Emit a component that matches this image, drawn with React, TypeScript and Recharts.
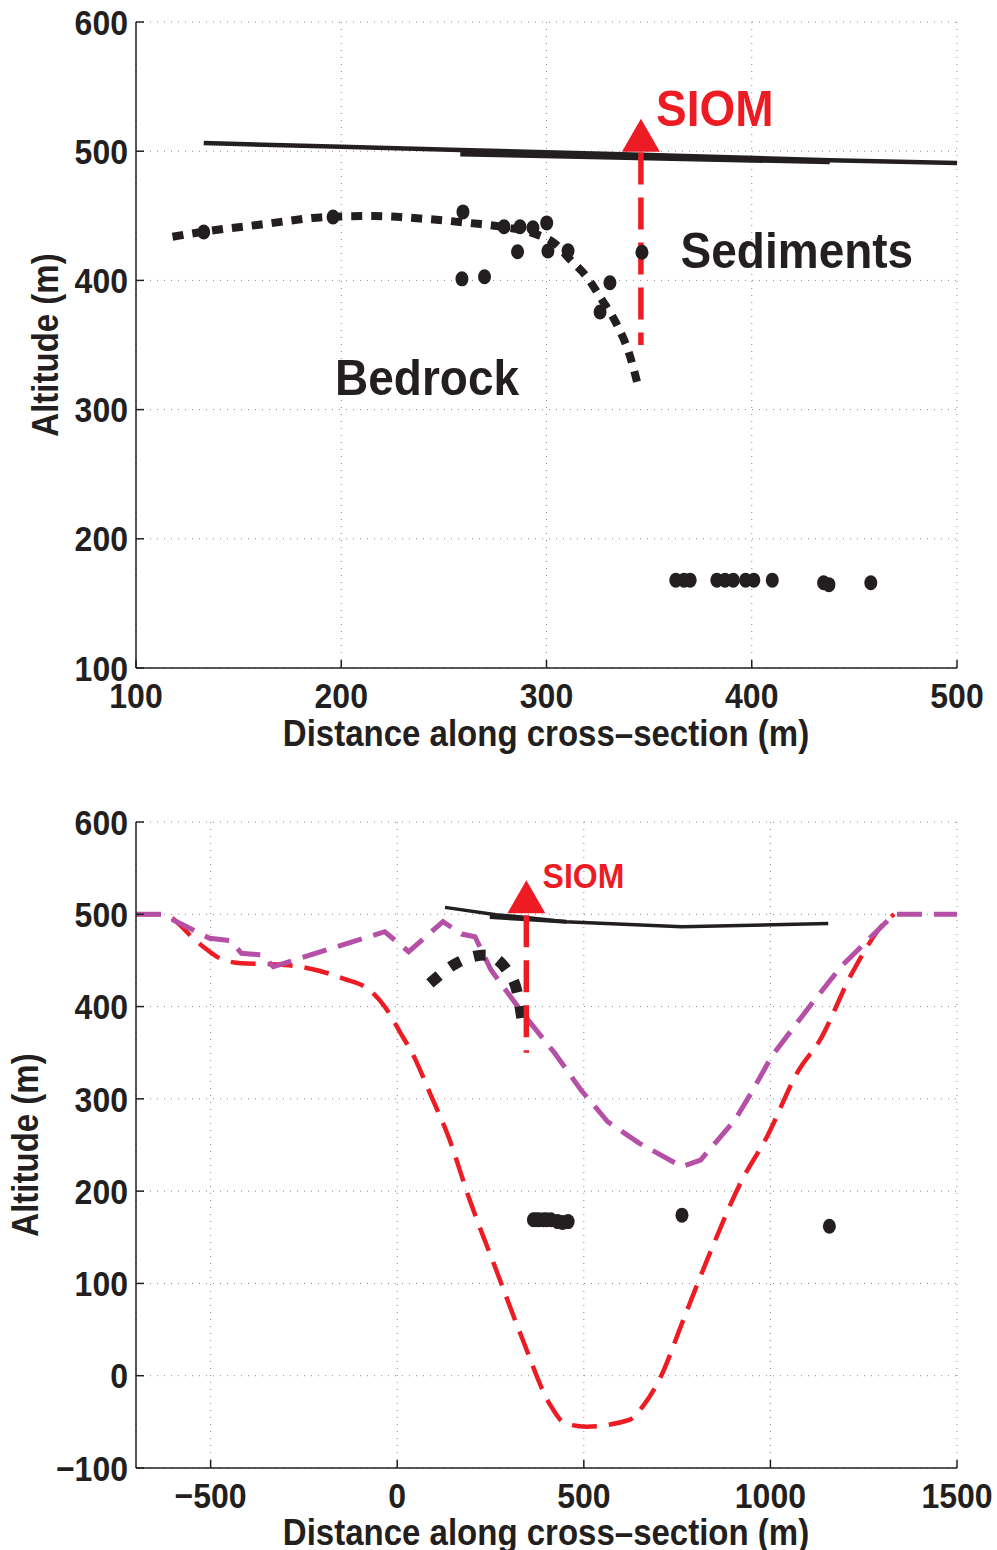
import React from 'react';
import { ComposedChart, Line, Scatter, XAxis, YAxis, CartesianGrid } from 'recharts';

const INK = '#231F20';
const RED = '#ED1C24';
const MAGENTA = '#B64FA6';
const FONT = "'Liberation Sans', Arial, Helvetica, sans-serif";

// ---- top panel (zoom on the sediment pocket) ----
const topXTicks = [100, 200, 300, 400, 500];
const topYTicks = [100, 200, 300, 400, 500, 600];

const topSurface = [
  { x: 133, y: 506.3 }, { x: 200, y: 503.5 }, { x: 258, y: 501 },
  { x: 346, y: 497.3 }, { x: 438, y: 493 }, { x: 500, y: 490.9 },
];
const topSurfaceThick = [
  { x: 258, y: 497.8 }, { x: 350, y: 494.8 }, { x: 438, y: 491.8 },
];
const topBedrock = [
  { x: 117.8, y: 433.8 }, { x: 133, y: 437.7 }, { x: 159, y: 442.9 },
  { x: 195.5, y: 449.3 }, { x: 216, y: 449.8 }, { x: 241.8, y: 447.5 },
  { x: 262.7, y: 444.4 }, { x: 278, y: 441.6 }, { x: 293.4, y: 436.5 },
  { x: 304, y: 428.7 }, { x: 311.7, y: 415.8 }, { x: 319.5, y: 402.9 },
  { x: 327, y: 385 }, { x: 334.8, y: 364.2 }, { x: 340.2, y: 343.8 },
  { x: 344.1, y: 321.6 },
];
const topPicks = [
  { x: 133, y: 437.5 }, { x: 196, y: 449.1 }, { x: 259.3, y: 453 },
  { x: 258.8, y: 401.2 }, { x: 269.8, y: 402.8 }, { x: 279.3, y: 441.5 },
  { x: 287.1, y: 441.5 }, { x: 293.4, y: 440.7 }, { x: 300.1, y: 444.5 },
  { x: 285.9, y: 422.2 }, { x: 300.7, y: 422.8 }, { x: 310.5, y: 423 },
  { x: 330.9, y: 398.2 }, { x: 326.1, y: 375.5 }, { x: 346.5, y: 421.8 },
  { x: 363, y: 168 }, { x: 367, y: 168 }, { x: 370, y: 168 },
  { x: 383, y: 168 }, { x: 387, y: 168 }, { x: 391, y: 168 },
  { x: 397, y: 168 }, { x: 401, y: 168 }, { x: 410, y: 168 },
  { x: 435, y: 166 }, { x: 437.6, y: 164.5 }, { x: 458, y: 166 },
];
const topSiomLine = [{ x: 346, y: 499 }, { x: 346, y: 350 }];
const topSiomMark = [{ x: 346, y: 499.5 }];
const topLabels = [
  { x: 382, y: 533.4, text: 'SIOM', color: RED, size: 46 },
  { x: 422, y: 423.5, text: 'Sediments', color: INK, size: 46 },
  { x: 241.8, y: 325.2, text: 'Bedrock', color: INK, size: 46 },
];

// ---- bottom panel (whole valley) ----
const botXTicks = [-500, 0, 500, 1000, 1500];
const botYTicks = [-100, 0, 100, 200, 300, 400, 500, 600];

const botSurface = [
  { x: 128, y: 507.5 }, { x: 265, y: 499.5 }, { x: 346, y: 496.5 },
  { x: 450, y: 492 }, { x: 763, y: 486.5 }, { x: 1155, y: 490 },
];
const botSurfaceThick = [{ x: 248, y: 497 }, { x: 346, y: 494.6 }, { x: 454, y: 492 }];
const botBedrock = [
  { x: 87.6, y: 425.2 }, { x: 158.3, y: 446.9 }, { x: 236.6, y: 455.9 },
  { x: 293.6, y: 439.6 }, { x: 322.2, y: 414.3 }, { x: 338, y: 376 },
];
const magentaModel = [
  { x: -700, y: 500 }, { x: -630.9, y: 500 }, { x: -502.8, y: 474 },
  { x: -446, y: 471.4 }, { x: -417.3, y: 457.7 }, { x: -360.5, y: 455.9 },
  { x: -332, y: 443.2 }, { x: -62.3, y: 477.5 }, { x: -33.3, y: 481.1 },
  { x: 30.7, y: 459.4 }, { x: 122.6, y: 492 }, { x: 172.7, y: 478.6 },
  { x: 208.4, y: 475.7 }, { x: 251.3, y: 439.6 }, { x: 336.5, y: 392.7 },
  { x: 421.7, y: 349.7 }, { x: 492.4, y: 309.6 }, { x: 564, y: 275.2 },
  { x: 649.1, y: 251.8 }, { x: 763, y: 226.5 }, { x: 812.9, y: 233.7 },
  { x: 905, y: 277.1 }, { x: 947.9, y: 306 }, { x: 1004, y: 346.4 },
  { x: 1104.4, y: 399.8 }, { x: 1189, y: 443.2 }, { x: 1260.9, y: 472.1 },
  { x: 1331.9, y: 500 }, { x: 1500, y: 500 },
];
const redModel = [
  { x: -700, y: 500 }, { x: -630.9, y: 500 }, { x: -531.2, y: 468.5 },
  { x: -474.9, y: 452.3 }, { x: -417.3, y: 446.9 }, { x: -346.3, y: 446.1 },
  { x: -261.1, y: 443.2 }, { x: -146.3, y: 430.6 }, { x: -68.9, y: 416.1 },
  { x: -33.3, y: 399.8 }, { x: 9.3, y: 371 }, { x: 45, y: 345.7 },
  { x: 87.8, y: 306 }, { x: 137.3, y: 259 }, { x: 194.2, y: 190.4 },
  { x: 265.2, y: 114.5 }, { x: 336.5, y: 38.7 }, { x: 407.4, y: -29.9 },
  { x: 450, y: -51.6 }, { x: 507.1, y: -55.2 }, { x: 621, y: -48 },
  { x: 663.9, y: -29.9 }, { x: 706.2, y: -1.1 }, { x: 763, y: 56.8 },
  { x: 834, y: 129 }, { x: 919.5, y: 208.5 }, { x: 990.8, y: 259 },
  { x: 1076, y: 331.2 }, { x: 1132.8, y: 363.7 }, { x: 1218.3, y: 436 },
  { x: 1317.7, y: 495.6 }, { x: 1331.9, y: 500 },
];
const botPicks = [
  { x: 365, y: 169 }, { x: 372, y: 169 }, { x: 380, y: 169 },
  { x: 392, y: 169 }, { x: 400, y: 169 }, { x: 412, y: 169 },
  { x: 430, y: 167 }, { x: 443, y: 166 }, { x: 458, y: 167 },
  { x: 763, y: 174 }, { x: 1158, y: 162 },
];
const botSiomLine = [{ x: 346, y: 499 }, { x: 346, y: 350 }];
const botSiomMark = [{ x: 346, y: 501 }];
const botLabels = [{ x: 499, y: 542.5, text: 'SIOM', color: RED, size: 32 }];

const fmt = (v: number) => (v < 0 ? `\u2212${Math.abs(v)}` : `${v}`);

const XTick = (props: any) => (
  <g transform={`translate(${props.x},${props.y}) scale(1,1.1)`}>
    <text x={0} y={0} dy="0.72em" textAnchor="middle" fontSize={32} fontWeight="bold" fill={INK} fontFamily={FONT}>
      {fmt(props.payload.value)}
    </text>
  </g>
);

const YTick = (props: any) => (
  <g transform={`translate(${props.x},${props.y}) scale(1,1.1)`}>
    <text x={0} y={0} dy="0.36em" textAnchor="end" fontSize={32} fontWeight="bold" fill={INK} fontFamily={FONT}>
      {fmt(props.payload.value)}
    </text>
  </g>
);

const Dot = (props: any) => <ellipse cx={props.cx} cy={props.cy} rx={6.5} ry={7.5} fill={INK} />;

const makeTriangle = (h: number) => (props: any) => (
  <polygon
    points={`${props.cx - 19},${props.cy} ${props.cx + 19},${props.cy} ${props.cx},${props.cy - h}`}
    fill={RED}
  />
);

const TextMark = (props: any) => {
  const p = props.payload;
  return (
    <g transform={`translate(${props.cx},${props.cy}) scale(1,1.1)`}>
      <text x={0} y={0} dy="0.36em" textAnchor="middle" fontSize={p.size} fontWeight="bold" fill={p.color} fontFamily={FONT}>
        {p.text}
      </text>
    </g>
  );
};

const Panel = (props: any) => {
  const { height, xDomain, yDomain, xTicks, yTicks, children, xAxisHeight } = props;
  return (
    <ComposedChart width={997} height={height} margin={{ top: 22, right: 40, bottom: 0, left: 0 }}>
      <CartesianGrid stroke="#8a8a8a" strokeDasharray="1 6" strokeWidth={1} />
      <XAxis
        dataKey="x" type="number" domain={xDomain} ticks={xTicks} interval={0}
        allowDataOverflow height={xAxisHeight}
        stroke={INK} strokeWidth={1.5} tickSize={-8} tickMargin={23} tick={<XTick />}
      />
      <XAxis
        xAxisId="top" orientation="top" type="number" domain={xDomain} ticks={xTicks}
        interval={0} height={0} stroke={INK} strokeWidth={1.5} tickSize={-8} tick={false}
      />
      <YAxis
        dataKey="y" type="number" domain={yDomain} ticks={yTicks} interval={0}
        allowDataOverflow width={136}
        stroke={INK} strokeWidth={1.5} tickSize={-8} tickMargin={16} tick={<YTick />}
      />
      <YAxis
        yAxisId="right" orientation="right" type="number" domain={yDomain} ticks={yTicks}
        interval={0} width={0} stroke={INK} strokeWidth={1.5} tickSize={-8} tick={false}
      />
      {children}
    </ComposedChart>
  );
};

const titleStyle: React.CSSProperties = {
  position: 'absolute',
  fontFamily: FONT,
  fontWeight: 'bold',
  fontSize: 33,
  lineHeight: 1,
  color: INK,
  whiteSpace: 'nowrap',
};

export default function App() {
  return (
    <div style={{ position: 'absolute', left: 0, top: 0, width: 997, height: 1550, background: '#fff' }}>
      <div style={{ position: 'absolute', left: 0, top: 0 }}>
        <Panel height={800} xDomain={[100, 500]} yDomain={[100, 600]} xTicks={topXTicks} yTicks={topYTicks} xAxisHeight={132}>
          <Line data={topSurface} dataKey="y" type="linear" stroke={INK} strokeWidth={4.5} dot={false} isAnimationActive={false} />
          <Line data={topSurfaceThick} dataKey="y" type="linear" stroke={INK} strokeWidth={5} dot={false} isAnimationActive={false} />
          <Line data={topBedrock} dataKey="y" type="monotone" stroke={INK} strokeWidth={8} strokeDasharray="11 9" dot={false} isAnimationActive={false} />
          <Scatter data={topPicks} dataKey="y" shape={<Dot />} isAnimationActive={false} />
          <Line data={topSiomLine} dataKey="y" type="linear" stroke={RED} strokeWidth={5.5} strokeDasharray="32 13" dot={false} isAnimationActive={false} />
          <Scatter data={topSiomMark} dataKey="y" shape={makeTriangle(33)} isAnimationActive={false} />
          <Scatter data={topLabels} dataKey="y" shape={<TextMark />} isAnimationActive={false} />
        </Panel>
      </div>
      <div style={{ position: 'absolute', left: 0, top: 800 }}>
        <Panel height={750} xDomain={[-700, 1500]} yDomain={[-100, 600]} xTicks={botXTicks} yTicks={botYTicks} xAxisHeight={82}>
          <Line data={redModel} dataKey="y" type="monotone" stroke={RED} strokeWidth={4.5} strokeDasharray="25 12" dot={false} isAnimationActive={false} />
          <Line data={magentaModel} dataKey="y" type="linear" stroke={MAGENTA} strokeWidth={5} strokeDasharray="25 12" dot={false} isAnimationActive={false} />
          <Line data={botSurface} dataKey="y" type="linear" stroke={INK} strokeWidth={3.5} dot={false} isAnimationActive={false} />
          <Line data={botSurfaceThick} dataKey="y" type="linear" stroke={INK} strokeWidth={4} dot={false} isAnimationActive={false} />
          <Line data={botBedrock} dataKey="y" type="monotone" stroke={INK} strokeWidth={11} strokeDasharray="12 14" dot={false} isAnimationActive={false} />
          <Scatter data={botPicks} dataKey="y" shape={<Dot />} isAnimationActive={false} />
          <Line data={botSiomLine} dataKey="y" type="linear" stroke={RED} strokeWidth={5.5} strokeDasharray="32 13" dot={false} isAnimationActive={false} />
          <Scatter data={botSiomMark} dataKey="y" shape={makeTriangle(33)} isAnimationActive={false} />
          <Scatter data={botLabels} dataKey="y" shape={<TextMark />} isAnimationActive={false} />
        </Panel>
      </div>
      <div style={{ ...titleStyle, left: 546, top: 733, transform: 'translate(-50%,-50%) scaleY(1.1)' }}>
        Distance along cross–section (m)
      </div>
      <div style={{ ...titleStyle, left: 45, top: 345, transform: 'translate(-50%,-50%) rotate(-90deg) scaleY(1.1)' }}>
        Altitude (m)
      </div>
      <div style={{ ...titleStyle, left: 546, top: 1532, transform: 'translate(-50%,-50%) scaleY(1.1)' }}>
        Distance along cross–section (m)
      </div>
      <div style={{ ...titleStyle, left: 25, top: 1145, transform: 'translate(-50%,-50%) rotate(-90deg) scaleY(1.1)' }}>
        Altitude (m)
      </div>
    </div>
  );
}
